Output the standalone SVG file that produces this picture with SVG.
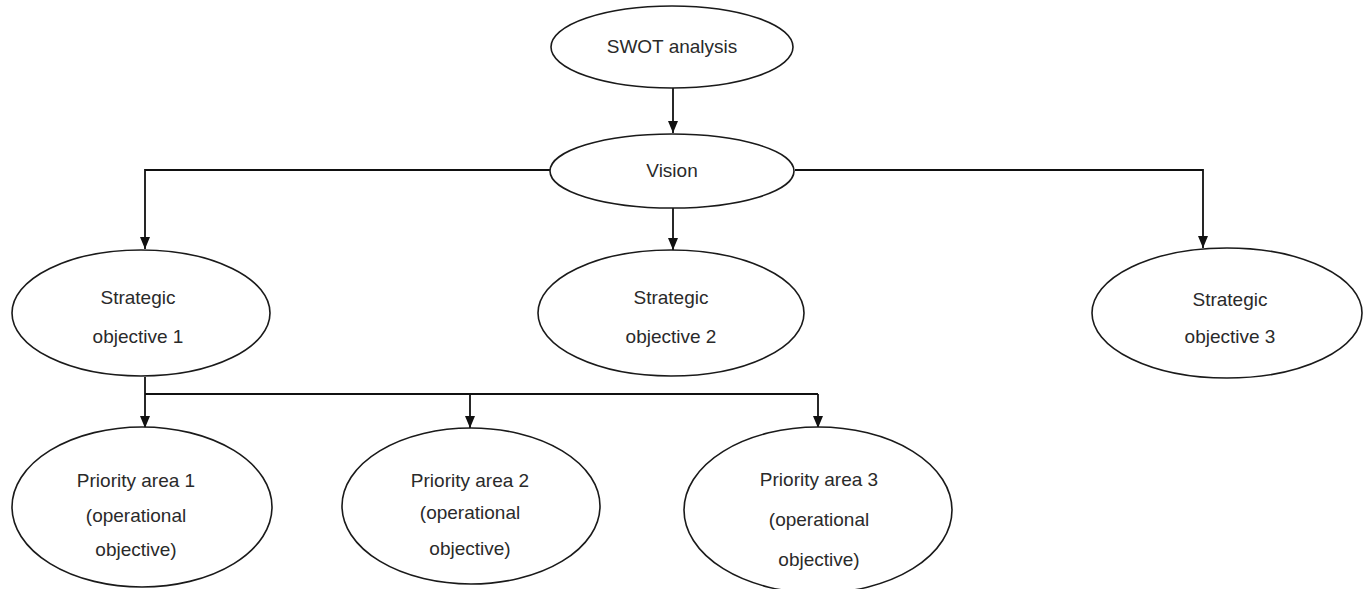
<svg xmlns="http://www.w3.org/2000/svg" width="1368" height="589" viewBox="0 0 1368 589">
<style>
  .node ellipse { fill: #ffffff; stroke: #1a1a1a; stroke-width: 1.6; }
  .node text { font-family: "Liberation Sans", Arial, sans-serif; font-size: 19px; fill: #2a2a2a; text-anchor: middle; }
  .conn path { fill: none; stroke: #111111; stroke-width: 1.8; marker-end: url(#arr); }
  .conn line { stroke: #111111; stroke-width: 1.8; }
</style>
<defs>
  <marker id="arr" viewBox="0 0 12 10" refX="12" refY="5" markerWidth="12" markerHeight="10" markerUnits="userSpaceOnUse" orient="auto">
    <path d="M0,0 L12,5 L0,10 Z" fill="#111111"/>
  </marker>
</defs>
<rect width="1368" height="589" fill="#ffffff"/>
<g class="conn">
  <path d="M673,88 V133"/>
  <path d="M550,170 H145 V249"/>
  <path d="M673,208 V250"/>
  <path d="M795,170 H1203 V248"/>
  <line x1="145" y1="377" x2="145" y2="394"/>
  <line x1="145" y1="394" x2="818" y2="394"/>
  <path d="M145,394 V428"/>
  <path d="M470,394 V428"/>
  <path d="M818,394 V428"/>
</g>
<g id="swot" class="node">
  <ellipse cx="672" cy="47" rx="121" ry="41"/>
  <text x="672" y="53">SWOT analysis</text>
</g>
<g id="vision" class="node">
  <ellipse cx="672" cy="171" rx="122" ry="37"/>
  <text x="672" y="177">Vision</text>
</g>
<g id="so1" class="node">
  <ellipse cx="141" cy="313" rx="129" ry="63"/>
  <text x="138" y="304">Strategic</text>
  <text x="138" y="343">objective 1</text>
</g>
<g id="so2" class="node">
  <ellipse cx="671" cy="313" rx="133" ry="63"/>
  <text x="671" y="304">Strategic</text>
  <text x="671" y="343">objective 2</text>
</g>
<g id="so3" class="node">
  <ellipse cx="1227" cy="313" rx="135" ry="65"/>
  <text x="1230" y="306">Strategic</text>
  <text x="1230" y="343">objective 3</text>
</g>
<g id="pa1" class="node">
  <ellipse cx="142" cy="507" rx="130" ry="80"/>
  <text x="136" y="487">Priority area 1</text>
  <text x="136" y="522">(operational</text>
  <text x="136" y="556">objective)</text>
</g>
<g id="pa2" class="node">
  <ellipse cx="471" cy="506" rx="129" ry="78"/>
  <text x="470" y="487">Priority area 2</text>
  <text x="470" y="519">(operational</text>
  <text x="470" y="555">objective)</text>
</g>
<g id="pa3" class="node">
  <ellipse cx="818" cy="510" rx="134" ry="83"/>
  <text x="819" y="486">Priority area 3</text>
  <text x="819" y="526">(operational</text>
  <text x="819" y="566">objective)</text>
</g>
</svg>
